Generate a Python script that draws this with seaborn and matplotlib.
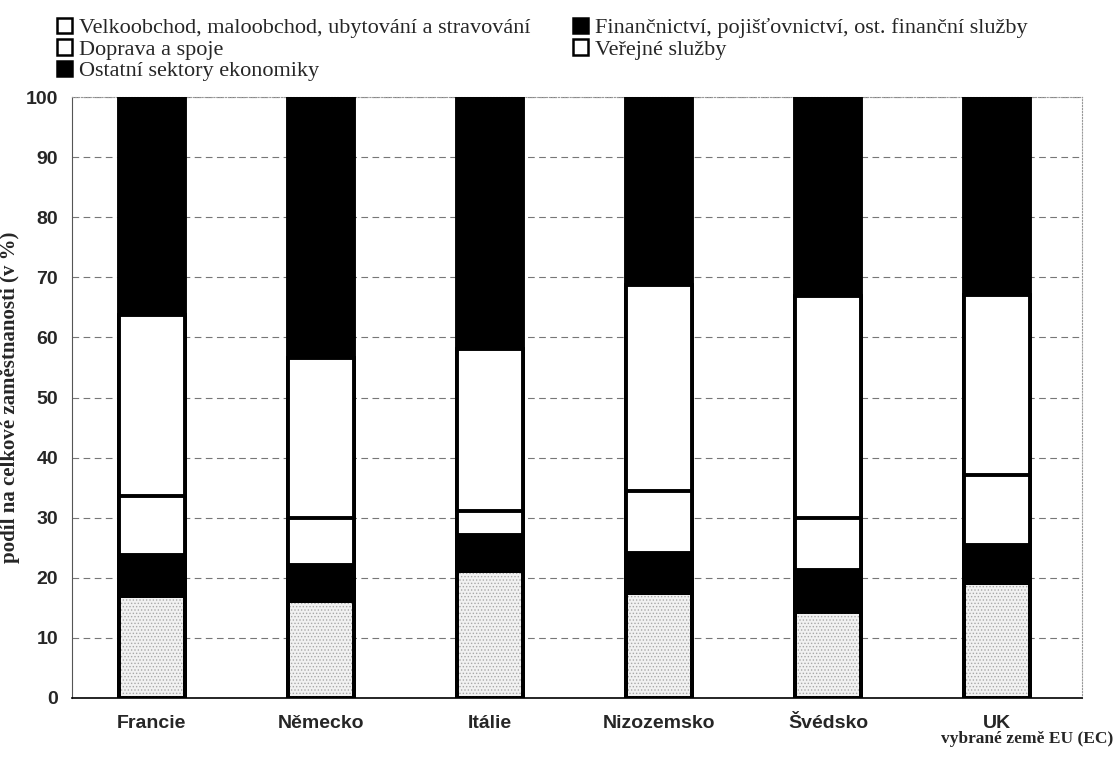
import numpy as np
import pandas as pd
import seaborn as sns
import matplotlib.pyplot as plt
from matplotlib.patches import Patch

# data (share of total employment, %)
countries = ['Francie', 'Německo', 'Itálie', 'Nizozemsko', 'Švédsko', 'UK']
obchod = [17.0, 16.1, 21.1, 17.5, 14.3, 19.1]
financni = [6.8, 6.0, 6.0, 6.6, 7.0, 6.4]
doprava = [9.8, 7.9, 4.0, 10.3, 8.7, 11.6]
verejne = [30.1, 26.6, 27.0, 34.3, 36.9, 29.9]
ostatni = [36.3, 43.4, 41.9, 31.3, 33.1, 33.0]

labels = ['Velkoobchod, maloobchod, ubytování a stravování',
          'Finančnictví, pojišťovnictví, ost. finanční služby',
          'Doprava a spoje',
          'Veřejné služby',
          'Ostatní sektory ekonomiky']
series = [obchod, financni, doprava, verejne, ostatni]
colors = ['#f1f1f1', 'black', 'white', 'white', 'black']

df = pd.DataFrame(dict(zip(labels, series)), index=countries)
cum = df.cumsum(axis=1)

sns.set_style('white')
plt.rcParams['font.family'] = ['Liberation Sans', 'DejaVu Sans']
plt.rcParams['hatch.linewidth'] = 0.6

fig = plt.figure(figsize=(11.15, 7.61), dpi=100)
ax = fig.add_axes([0.0646, 0.0828, 0.9058, 0.7897])

W = 0.39
LW = 2.8
# stacked bars: draw cumulative totals from the top segment down
for lab, col in reversed(list(zip(labels, colors))):
    sns.barplot(x=countries, y=cum[lab].values, color=col, saturation=1,
                width=W, edgecolor='black', linewidth=LW, ax=ax, zorder=3)
# stipple on the bottom segment
sns.barplot(x=countries, y=cum[labels[0]].values, facecolor='none', saturation=1,
            width=W, edgecolor='#a8a8a8', linewidth=0, hatch='.....', ax=ax, zorder=3)
sns.barplot(x=countries, y=cum[labels[0]].values, fill=False, color='black',
            width=W, linewidth=LW, ax=ax, zorder=3)

ax.set_ylim(0, 100)
ax.set_xlim(-0.47, 5.5)
ax.set_yticks(range(0, 101, 10))
ax.yaxis.grid(True, linestyle=(0, (6, 4)), color='#777777', linewidth=0.8, zorder=0)
ax.xaxis.grid(False)
ax.tick_params(axis='both', length=0, labelsize=14, pad=10)
for t in ax.get_xticklabels() + ax.get_yticklabels():
    t.set_fontweight('bold')
ax.tick_params(axis='x', pad=12)

for s in ['top', 'right']:
    ax.spines[s].set_color('#999999')
    ax.spines[s].set_linestyle(':')
    ax.spines[s].set_linewidth(0.8)
ax.spines['left'].set_color('#555555')
ax.spines['left'].set_linewidth(0.8)
ax.spines['bottom'].set_color('black')
ax.spines['bottom'].set_linewidth(1.2)

ax.set_ylabel('podíl na celkové zaměstnanosti (v %)', family='Liberation Serif',
              fontweight='bold', fontsize=15, labelpad=4)
fig.text(0.998, 0.018, 'vybrané země EU (EC)', family='Liberation Serif',
         fontweight='bold', fontsize=12.5, ha='right', va='bottom')

order = [0, 2, 4, 1, 3]
handles = [Patch(facecolor=colors[i] if i != 0 else 'white', edgecolor='black',
                 linewidth=1.8, label=labels[i]) for i in order]
fig.legend(handles=handles, ncol=2, loc='upper left', bbox_to_anchor=(0.04, 0.993),
           frameon=False, prop={'family': 'Liberation Serif', 'size': 16},
           handlelength=0.7, handleheight=0.7, handletextpad=0.3,
           labelspacing=0.05, columnspacing=1.9, borderaxespad=0.15)

fig.savefig('out.png', dpi=100)
